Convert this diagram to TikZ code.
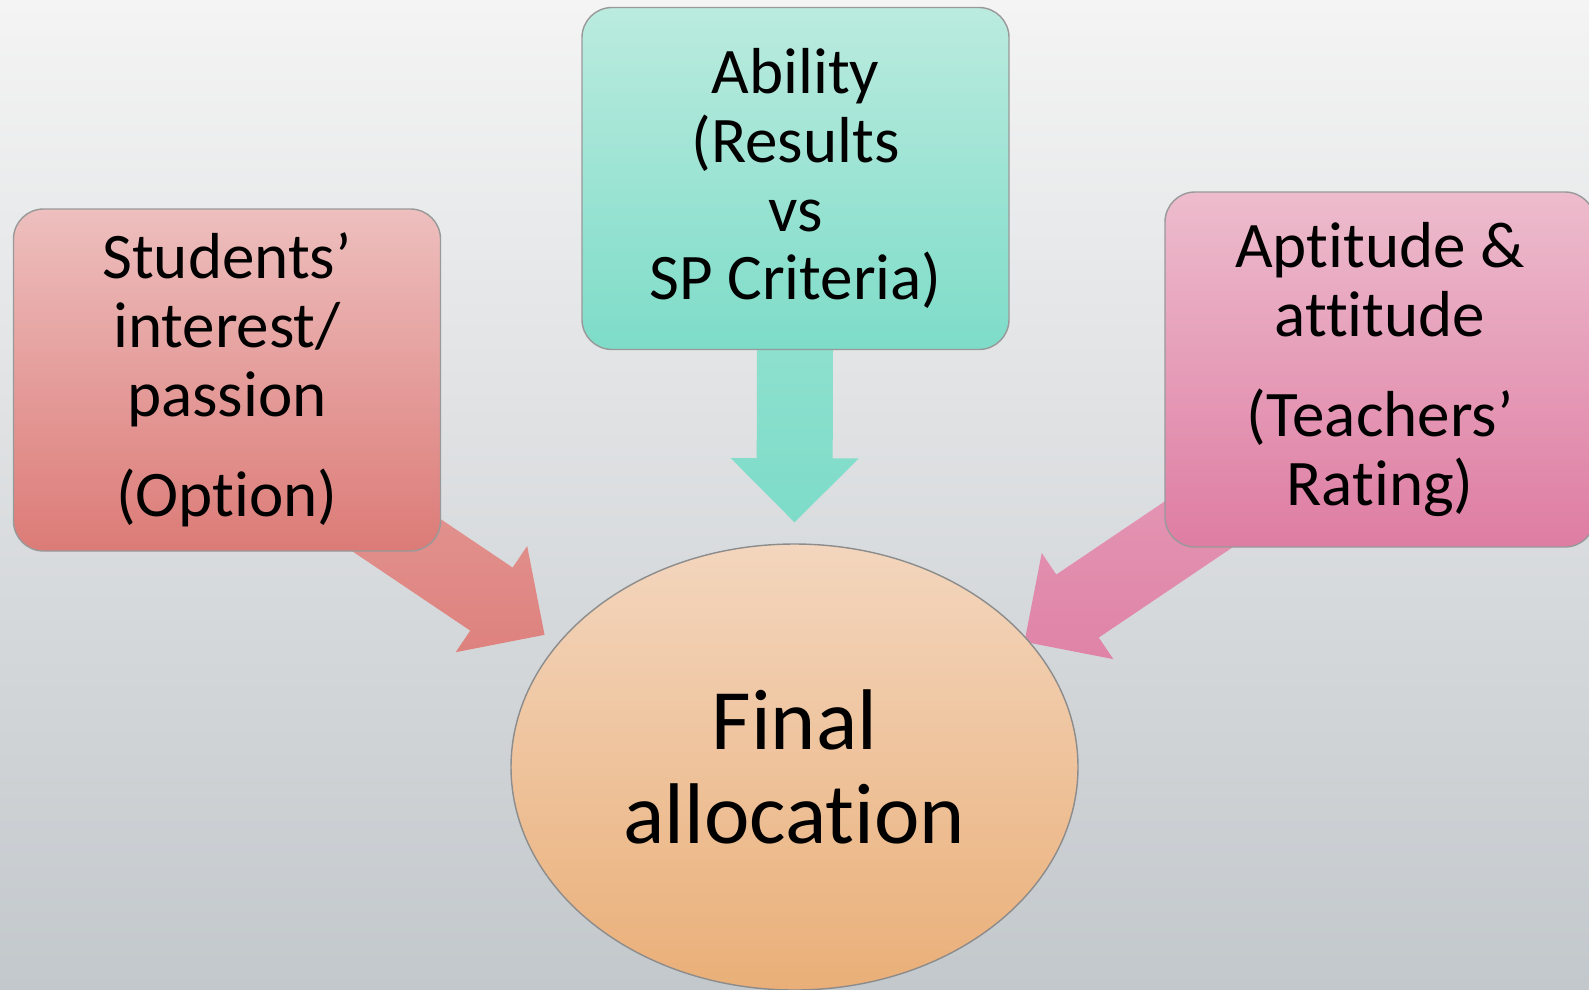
\documentclass[tikz,border=0pt]{standalone}
\usepackage{fontspec}
\setmainfont{Carlito}[Ligatures=NoCommon]
\usepackage{tikz}
\usetikzlibrary{calc,shapes.geometric}

\pgfdeclarelayer{bg}
\pgfdeclarelayer{arrows}
\pgfsetlayers{bg,arrows,main}

\definecolor{bgTop}{HTML}{F4F4F4}
\definecolor{bgMid}{HTML}{E3E6E6}
\definecolor{bgBot}{HTML}{C3C8CC}
\definecolor{redTop}{HTML}{EDBFBE}
\definecolor{redBot}{HTML}{DC7B77}
\definecolor{tealTop}{HTML}{BBEBDF}
\definecolor{tealBot}{HTML}{7DDCC8}
\definecolor{pinkTop}{HTML}{EDBCCD}
\definecolor{pinkBot}{HTML}{DE7DA2}
\definecolor{peachTop}{HTML}{F3D6BE}
\definecolor{peachBot}{HTML}{EAAF78}

% block arrow from #1 to #2, shading #3
\newcommand{\blockarrow}[3]{%
  \coordinate (hb) at ($(#2)!6.4mm!(#1)$);
  \shade[#3] ($(#1)!3.8mm!90:(#2)$) -- ($(hb)!3.8mm!90:(#2)$)
    -- ($(hb)!6.4mm!90:(#2)$) -- (#2) -- ($(hb)!6.4mm!-90:(#2)$)
    -- ($(hb)!3.8mm!-90:(#2)$) -- ($(#1)!3.8mm!-90:(#2)$) -- cycle;
}

\begin{document}
\begin{tikzpicture}[x=0.1mm,y=-0.1mm,
  factor/.style={rectangle, rounded corners=3mm, draw=black!40, line width=0.4pt,
    minimum width=42.7mm, minimum height=34.2mm, inner sep=0pt, align=center,
    font=\fontsize{18.5pt}{19.6pt}\selectfont},
  outcome/.style={ellipse, draw=black!45, line width=0.4pt,
    minimum width=56.7mm, minimum height=44.6mm, inner sep=0pt, align=center,
    font=\fontsize{24.5pt}{26.7pt}\selectfont}]

% Fix the page size
\useasboundingbox (0,0) rectangle (1589,989);
\begin{pgfonlayer}{bg}
  \shade[top color=bgTop, middle color=bgMid, bottom color=bgBot] (0,0) rectangle (1589,989);
\end{pgfonlayer}

% The three factors
\node[factor, top color=redTop, bottom color=redBot] (interest) at (227,380)
  {Students’\\interest/\\passion\\[3.1mm](Option)};
\node[factor, top color=tealTop, bottom color=tealBot] (ability) at (795.5,178.5)
  {Ability\\(Results\\vs\\SP Criteria)};
\node[factor, minimum width=43mm, minimum height=35.5mm, top color=pinkTop, bottom color=pinkBot] (aptitude) at (1380,369.5)
  {Aptitude \&\\attitude\\[3.1mm](Teachers’\\Rating)};

% The outcome
\node[outcome, top color=peachTop, bottom color=peachBot] (final) at (794.5,767)
  {Final\\allocation};

% Arrow ends
\coordinate (tailL) at ($(interest.south east)+(-145,-84)$);
\coordinate (tailR) at ($(aptitude.south west)+(108,-73)$);
\coordinate (tipL) at ($(final.north west)+(-49,26)$);
\coordinate (tipM) at ($(final.north)+(0,-21)$);
\coordinate (tipR) at ($(final.north east)+(29,33)$);

% Arrows go behind the boxes
\begin{pgfonlayer}{arrows}
  \blockarrow{tailL}{tipL}{top color=redTop!45!redBot, bottom color=redBot!95!white}
  \blockarrow{ability.center}{tipM}{top color=tealTop!50!tealBot, bottom color=tealBot}
  \blockarrow{tailR}{tipR}{top color=pinkTop!45!pinkBot, bottom color=pinkBot!95!white}
\end{pgfonlayer}

\end{tikzpicture}
\end{document}
